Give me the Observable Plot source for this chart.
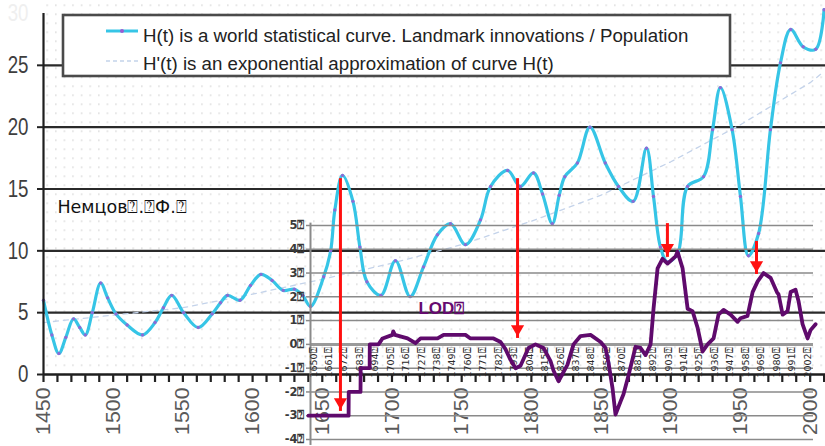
<!DOCTYPE html>
<html>
<head>
<meta charset="utf-8">
<script src="https://cdn.jsdelivr.net/npm/d3@7"></script>
<script src="https://cdn.jsdelivr.net/npm/@observablehq/plot@0.6"></script>
<style>
  html, body { margin: 0; padding: 0; background: #fff; overflow: hidden; }
  #wrap { position: relative; width: 825px; height: 446px; overflow: hidden; background: #fff; }
  #wrap > svg { position: absolute; left: 0; top: 0; }
</style>
</head>
<body>
<div id="wrap"></div>
<script>
// ---------- H(t): world statistical curve (landmark innovations / population)
const hYears  = [1450,1456,1461,1466,1471.5,1476,1480,1485,1491,1496,1502,1510,1521,1530,1536,1542,1550.5,1561,1571,1577,1582,1591,1598.5,1606,1614,1622,1630,1636,1641.5,1651,1656,1659,1664.5,1672,1677,1682,1692,1702.5,1713,1722.6,1732.6,1742,1752.7,1763.5,1770.7,1783,1792,1801.5,1808,1815,1820,1824,1833,1842,1853,1862.5,1873,1882.6,1887.6,1892.6,1897.6,1905,1912,1923.5,1930,1935.6,1944,1950,1955.7,1963,1971.5,1978.7,1986,1995,2004,2010];
const hValues = [6.0,3.2,1.7,3.0,4.5,3.8,3.2,5.0,7.4,6.2,4.9,4.0,3.2,4.2,5.4,6.4,5.0,3.8,4.9,5.8,6.4,6.0,7.2,8.1,7.6,6.8,6.9,6.4,5.5,7.9,10.0,13.3,16.1,14.0,10.3,7.5,6.4,9.2,6.3,8.7,11.3,12.2,10.5,12.5,15.2,16.5,15.2,16.3,14.6,12.2,14.5,16.0,17.1,20.0,17.1,15.2,14.0,18.3,14.4,10.3,9.1,9.8,15.2,16.0,19.8,23.2,19.8,14.4,9.6,11.4,19.8,25.2,27.9,26.5,26.3,29.5];

// ---------- H'(t): exponential approximation
const expYears  = [1450,1500,1550,1600,1650,1700,1750,1800,1850,1900,1950,2000,2010];
const expValues = [4.2,4.8,5.4,6.5,7.7,9.0,10.5,12.4,14.5,17.2,20.2,23.6,24.5];

// ---------- LOD (inset)
const lodYears  = [1646.4,1675,1675.1,1683.5,1683.6,1690,1690.1,1696.3,1699.2,1706.3,1706.8,1708,1717,1722.7,1726.3,1738.4,1742.7,1758.3,1761.9,1778.3,1783.3,1786.8,1790.4,1794,1797.5,1803.2,1808.2,1813.9,1818.9,1821,1824.6,1831,1835.3,1840.3,1847.4,1854.6,1858.1,1860.3,1863.1,1865.2,1868.8,1870.9,1874.5,1879.5,1883.1,1886.6,1890.2,1892.3,1895.2,1898.7,1902.3,1908,1909.4,1913,1916.6,1920.1,1923.7,1927.3,1930.8,1935.1,1938.6,1942.2,1947.2,1952.2,1954.3,1959.3,1962.9,1966.5,1970.7,1975.7,1980.2,1981.4,1984.3,1987.8,1990,1993.5,1995.7,1998.5,2002.1,2004.2,2007.8];
const lodValues = [-3.0,-3.0,-2.0,-2.0,-1.0,-1.0,0.0,0.0,0.25,0.4,0.55,0.4,0.25,0.05,0.25,0.25,0.4,0.4,0.25,0.25,0.1,-0.2,-0.65,-1.0,-0.9,-0.15,0.0,-0.15,-0.7,-1.1,-1.55,-0.85,0.0,0.35,0.4,0.1,-0.15,-0.8,-1.85,-2.95,-2.4,-2.1,-1.3,-0.1,-0.15,-0.45,0.0,1.5,3.2,3.6,3.4,3.7,3.9,3.2,1.5,1.4,0.7,-0.3,0.0,0.25,1.25,1.45,1.25,0.95,1.1,1.2,2.2,2.65,3.0,2.8,2.2,2.1,1.25,1.4,2.2,2.3,1.8,0.85,0.25,0.6,0.85];

// ---------- red arrows (inset coordinates: year, LOD units)
const arrowYears = [1669.2, 1795.4, 1902.2, 1965.7];
const arrowFrom  = [6.97, 6.97, 5.08, 4.33];
const arrowTo    = [-2.82, 0.25, 3.66, 2.94];

// ---------- ticks & labels
const mainYTicks   = [0, 5, 10, 15, 20, 25];
const mainXLabels  = [1450, 1500, 1550, 1600, 1650, 1700, 1750, 1800, 1850, 1900, 1950, 2000];
const insetYTicks  = [-4, -3, -2, -1, 0, 1, 2, 3, 4, 5];
const insetXLabels = [1650,1661,1672,1683,1694,1705,1716,1727,1738,1749,1760,1771,1782,1793,1804,1815,1826,1837,1848,1859,1870,1881,1892,1903,1914,1925,1936,1947,1958,1969,1980,1991,2002];
const legendText1 = "H(t) is a world statistical curve. Landmark innovations / Population";
const legendText2 = "H'(t) is an exponential approximation of curve H(t)";
const authorText  = "Немцов\u2370.\u2370Ф.\u2370";
const lodLabel    = "LOD\u2370";
const BOX = "\u2370";

const hData   = hYears.map((t, i) => ({t, v: hValues[i]}));
const expData = expYears.map((t, i) => ({t, v: expValues[i]}));
const lodData = lodYears.map((t, i) => ({t, v: lodValues[i]}));
const arrows  = arrowYears.map((t, i) => ({t, from: arrowFrom[i], to: arrowTo[i]}));

const CYAN = "#36c5e6", VIOLET = "#9a5cd2", PURPLE = "#5f0a6c", EXPC = "#c4d3ea";

// ================= MAIN CHART =================
const main = Plot.plot({
  width: 825, height: 446,
  marginLeft: 43, marginRight: 0, marginTop: 3, marginBottom: 72,
  x: {domain: [1450, 2011], label: null},
  y: {domain: [0, 30], label: null},
  style: {fontFamily: "'Liberation Sans', Arial, sans-serif", background: "white", overflow: "hidden"},
  marks: [
    Plot.frame({fill: "url(#dots)", stroke: "none"}),
    Plot.ruleY(mainYTicks.filter(d => d > 0), {stroke: "#2a2a2a", strokeWidth: 2.2}),
    Plot.line(expData, {x: "t", y: "v", stroke: EXPC, strokeWidth: 1.3, strokeDasharray: "5,5"}),
    Plot.line(hData, {x: "t", y: "v", curve: "catmull-rom", stroke: CYAN, strokeWidth: 3.2}),
    Plot.dot(hData, {x: "t", y: "v", r: 1.7, fill: VIOLET, fillOpacity: 0.85}),
    Plot.ruleX([1450], {y1: 0, y2: 29.2, stroke: "#1e1e1e", strokeWidth: 2.2}),
    Plot.ruleY([0], {stroke: "#1e1e1e", strokeWidth: 2.6}),
    Plot.axisX({ticks: d3.range(1450, 2011, 10), tickSize: 8, strokeWidth: 2.2, stroke: "#222", tickFormat: () => ""}),
    Plot.axisX({ticks: mainXLabels, tickSize: 0, tickPadding: 13, tickRotate: -90, fontSize: 20.5, fill: "#5a5a5a", tickFormat: d => String(d)}),
    Plot.axisY({ticks: mainYTicks, tickSize: 6, strokeWidth: 2, stroke: "#222", tickPadding: 9, fontSize: 24, fill: "#3e3e3e", tickFormat: d => String(d)}),
    Plot.axisY({ticks: [30], tickSize: 0, tickPadding: 15, fontSize: 24, fill: "#efefef", dy: 10, tickFormat: d => String(d)}),
    Plot.text([authorText], {x: 1460, y: 13.5, text: d => d, textAnchor: "start", fontSize: 17.5, fill: "#111", fontFamily: "'DejaVu Sans', sans-serif"})
  ]
});

// dotted background pattern
const NS = "http://www.w3.org/2000/svg";
const defs = document.createElementNS(NS, "defs");
defs.innerHTML = '<pattern id="dots" width="8.6" height="9" patternUnits="userSpaceOnUse"><rect x="3" y="4" width="1.4" height="1.4" fill="#d2d2d2"/></pattern>';
main.insertBefore(defs, main.firstChild);

// condense/stretch the big axis labels like the original
main.querySelectorAll('g[aria-label="y-axis tick label"] text').forEach(t => {
  const tr = t.getAttribute("transform") || "";
  t.setAttribute("transform", tr + " scale(0.78,1)");
});
main.querySelectorAll('g[aria-label="x-axis tick label"] text').forEach(t => {
  const tr = t.getAttribute("transform") || "";
  t.setAttribute("transform", tr + " scale(1.04,1)");
});

// ================= LEGEND (inside the plot area) =================
const legend = document.createElementNS(NS, "svg");
legend.setAttribute("width", 825);
legend.setAttribute("height", 446);
legend.style.pointerEvents = "none";
legend.innerHTML = `
  <rect x="63" y="15" width="667" height="61" fill="#fff" stroke="#4a4a4a" stroke-width="2.6"/>
  <line x1="106" x2="138" y1="31" y2="31" stroke="${CYAN}" stroke-width="3"/>
  <circle cx="122" cy="31" r="2" fill="${VIOLET}"/>
  <line x1="106" x2="138" y1="61" y2="61" stroke="${EXPC}" stroke-width="1.4" stroke-dasharray="4,3"/>
  <text x="143" y="42" font-family="'Liberation Sans', Arial, sans-serif" font-size="18.7" fill="#222">${legendText1}</text>
  <text x="143" y="70" font-family="'Liberation Sans', Arial, sans-serif" font-size="18.7" fill="#222">${legendText2}</text>`;

// ================= INSET (LOD) =================
const x0 = 1647.86, x1 = 2006.3;
const inset = Plot.plot({
  width: 825, height: 446,
  marginLeft: 310, marginRight: 12, marginTop: 225, marginBottom: 7,
  x: {domain: [x0, x1], label: null, axis: null},
  y: {domain: [-4, 5], label: null},
  style: {fontFamily: "'Liberation Sans', Arial, sans-serif", background: "transparent", overflow: "visible"},
  marks: [
    Plot.ruleY(insetYTicks, {stroke: "#8a8a8a", strokeWidth: 1.5}),
    Plot.ruleY([0], {stroke: "#9a9a9a", strokeWidth: 3}),
    Plot.ruleX([x0], {y1: -4.25, y2: 5.1, stroke: "#8a8a8a", strokeWidth: 2}),
    Plot.axisY({ticks: insetYTicks, tickSize: 4, stroke: "#8a8a8a", strokeWidth: 1.5, tickPadding: 2, fontSize: 11.5, fontWeight: "bold", fill: "#3a3a3a", fontFamily: "'DejaVu Sans', sans-serif", tickFormat: d => String(d) + BOX}),
    Plot.text(insetXLabels, {x: d => d, y: 0, text: d => String(d) + BOX, rotate: -90, textAnchor: "end", lineAnchor: "middle", dy: 3, fontSize: 9.5, fill: "#2a2a2a", fontFamily: "'DejaVu Sans', sans-serif"}),
    Plot.line(lodData, {x: "t", y: "v", stroke: PURPLE, strokeWidth: 3.8, strokeLinejoin: "round"}),
    Plot.text([lodLabel], {x: 1724.8, y: 1.5, text: d => d, textAnchor: "start", fontSize: 17, fontWeight: "bold", fill: "#660a70"}),
    Plot.ruleX(arrows, {x: "t", y1: "from", y2: "to", stroke: "#ff1010", strokeWidth: 3}),
    Plot.dot(arrows, {x: "t", y: "to", symbol: "triangle2", rotate: 180, r: 6.3, dy: -9.5, fill: "#ff1010", stroke: "none"})
  ]
});

const wrap = document.getElementById("wrap");
wrap.appendChild(main);
wrap.appendChild(legend);
wrap.appendChild(inset);
</script>
</body>
</html>
